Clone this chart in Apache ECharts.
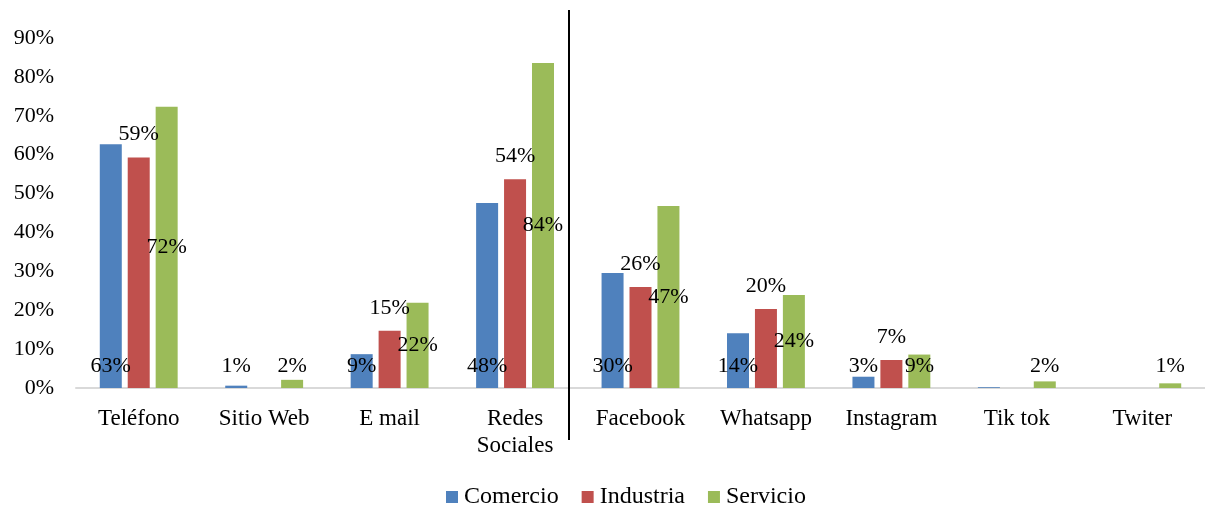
<!DOCTYPE html>
<html>
<head>
<meta charset="utf-8">
<script src="https://cdn.jsdelivr.net/npm/echarts@6/dist/echarts.min.js"></script>
<style>
  html, body { margin: 0; padding: 0; background: #fff; }
  #chart { width: 1205px; height: 506px; }
</style>
</head>
<body>
<div id="chart"></div>
<script>
var categories = ['Teléfono', 'Sitio Web', 'E mail', 'Redes\nSociales', 'Facebook', 'Whatsapp', 'Instagram', 'Tik tok', 'Twiter'];
var comercio = [62.7, 0.6, 8.7, 47.6, 29.6, 14.1, 2.9, 0.2, 0];
var industria = [59.3, 0, 14.7, 53.7, 26.0, 20.3, 7.2, 0, 0];
var servicio = [72.3, 2.1, 21.9, 83.6, 46.8, 23.9, 8.6, 1.7, 1.2];
var yTicks = [0, 10, 20, 30, 40, 50, 60, 70, 80, 90];

var font = 'Liberation Serif';

function pctLabel(p) {
  return p.value < 0.5 ? '' : Math.round(p.value) + '%';
}

var labelBase = {
  show: true,
  fontFamily: font,
  fontSize: 22,
  color: '#000',
  formatter: pctLabel
};

// servicio: centred in bar, but small bars keep the label down at the bottom row
var servicioData = servicio.map(function (v) {
  if (v < 12) {
    return { value: v, label: { position: 'insideBottom', distance: 11 } };
  }
  return v;
});

var chart = echarts.init(document.getElementById('chart'));
var option = {
  animation: false,
  textStyle: { fontFamily: font },
  grid: { left: 76, right: -7, top: 38, bottom: 118 },
  legend: {
    bottom: -8,
    left: 441,
    itemWidth: 12,
    itemHeight: 12,
    itemGap: 23,
    icon: 'rect',
    textStyle: { fontFamily: font, fontSize: 24, color: '#000', padding: [0, 0, 0, 1] },
    data: ['Comercio', 'Industria', 'Servicio']
  },
  xAxis: {
    type: 'category',
    data: categories,
    axisLine: { lineStyle: { color: '#d9d9d9', width: 2 } },
    axisTick: { show: false },
    axisLabel: { fontFamily: font, fontSize: 23, color: '#000', margin: 17, lineHeight: 27, interval: 0 }
  },
  yAxis: {
    type: 'value',
    min: yTicks[0],
    max: yTicks[yTicks.length - 1],
    interval: 10,
    axisLine: { show: false },
    axisTick: { show: false },
    splitLine: { show: false },
    axisLabel: { fontFamily: font, fontSize: 22, color: '#000', margin: 22, formatter: '{value}%' }
  },
  series: [
    {
      name: 'Comercio',
      type: 'bar',
      barWidth: 22,
      barGap: '27%',
      itemStyle: { color: '#4F81BD' },
      label: Object.assign({}, labelBase, { position: 'insideBottom', distance: 11 }),
      data: comercio
    },
    {
      name: 'Industria',
      type: 'bar',
      barWidth: 22,
      barGap: '27%',
      itemStyle: { color: '#C0504D' },
      label: Object.assign({}, labelBase, { position: 'top', distance: 12 }),
      data: industria
    },
    {
      name: 'Servicio',
      type: 'bar',
      barWidth: 22,
      barGap: '27%',
      itemStyle: { color: '#9BBB59' },
      label: Object.assign({}, labelBase, { position: 'inside' }),
      data: servicioData
    }
  ],
  graphic: [
    {
      type: 'line',
      shape: { x1: 569, y1: 10, x2: 569, y2: 440 },
      style: { stroke: '#000', lineWidth: 2 },
      z: 10
    }
  ]
};
chart.setOption(option);
</script>
</body>
</html>
